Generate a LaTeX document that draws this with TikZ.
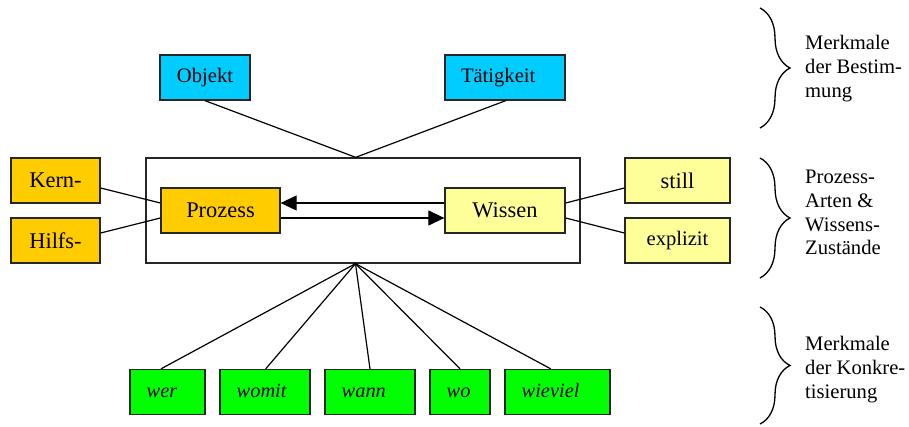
\documentclass[tikz,border=0pt]{standalone}
\usepackage{fontspec}
\setmainfont{Liberation Serif}
\usetikzlibrary{arrows.meta,decorations.pathreplacing,calc}
\definecolor{cyanbox}{HTML}{00CCFF}
\definecolor{orangebox}{HTML}{FFCC00}
\definecolor{yellowbox}{HTML}{FFFF99}
\definecolor{greenbox}{HTML}{00FF00}
\begin{document}
\begin{tikzpicture}[x=1pt,y=-1pt,
  box/.style={draw=black!85, line width=1.3pt, inner sep=0pt, minimum height=45pt},
  bigfont/.style={font=\fontsize{22.4}{26}\selectfont},
  smallfont/.style={font=\fontsize{20.6}{24}\selectfont},
  cbox/.style={box, fill=cyanbox, smallfont},
  obox/.style={box, fill=orangebox, bigfont},
  ybox/.style={box, fill=yellowbox},
  gbox/.style={box, fill=greenbox, font=\fontsize{20.4}{24}\selectfont\itshape,
    inner xsep=16.7pt, align=left, text height=11pt, text depth=0pt},
  conn/.style={line width=1.2pt, black},
  arr/.style={line width=1.2pt, black, -{Triangle[length=16pt,width=15pt]}},
  lab/.style={smallfont, align=left, inner sep=0pt, anchor=west},
  brc/.style={line width=1.3pt, decorate, decoration={brace, amplitude=30pt}}
]
\useasboundingbox (0,0) rectangle (909,427);

% frame
\node[draw=black!85, line width=1.3pt, minimum width=434pt, minimum height=105pt, inner sep=0pt] (frame) at (363,210.5) {};

% top boxes
\node[cbox, minimum width=90pt] (objekt) at (205,77.5) {Objekt};
\node[cbox, minimum width=120pt, inner xsep=16pt, text width=88pt, align=left] (taetig) at (505,77.5) {Tätigkeit};

% left boxes
\node[obox, minimum width=89pt] (kern) at (55.5,180.5) {Kern-};
\node[obox, minimum width=89pt] (hilfs) at (55.5,240.5) {Hilfs-};
\node[obox, minimum width=119pt] (prozess) at (220.5,210.5) {Prozess};

% right boxes
\node[ybox, bigfont, minimum width=120pt] (wissen) at (505,210.5) {Wissen};
\node[ybox, bigfont, minimum width=105pt] (still) at (677.5,180.5) {still};
\node[ybox, smallfont, minimum width=105pt] (explizit) at (677.5,240.5) {explizit};

% bottom boxes
\node[gbox, text width=41.6pt] (wer) at (167.5,392) {wer};
\node[gbox, text width=56.6pt] (womit) at (265,392) {womit};
\node[gbox, text width=56.6pt] (wann) at (370,392) {wann};
\node[gbox, text width=26.6pt] (wo) at (460,392) {wo};
\node[gbox, text width=71.6pt] (wieviel) at (557.5,392) {wieviel};

% junctions
\coordinate (jt) at ([xshift=-7.3pt]frame.north);
\coordinate (jb) at ([xshift=-7.5pt]frame.south);

% connectors
\draw[conn] (objekt.south) -- (jt);
\draw[conn] ([xshift=0.7pt]taetig.south) -- (jt);
\draw[conn] ([yshift=-7.5pt]kern.east) -- ([yshift=7.5pt]prozess.west);
\draw[conn] ([yshift=7.5pt]hilfs.east) -- ([yshift=-7.5pt]prozess.west);
\draw[conn] ([yshift=7.5pt]wissen.east) -- ([yshift=-7.5pt]still.west);
\draw[conn] ([yshift=-7.5pt]wissen.east) -- ([yshift=7.5pt]explizit.west);
\draw[arr] ([yshift=7.5pt]wissen.west) -- ([yshift=7.5pt]prozess.east);
\draw[arr] ([yshift=-7.5pt]prozess.east) -- ([yshift=-7.5pt]wissen.west);
\draw[conn] (jb) -- ([xshift=-6.5pt]wer.north);
\draw[conn] (jb) -- ([xshift=0.7pt]womit.north);
\draw[conn] (jb) -- (wann.north);
\draw[conn] (jb) -- (wo.north);
\draw[conn] (jb) -- ([xshift=-6.8pt]wieviel.north);

% braces
\coordinate (b1t) at (760,8);   \coordinate (b1b) at (760,128);
\coordinate (b2t) at (760,158); \coordinate (b2b) at (760,278);
\coordinate (b3t) at (760,307); \coordinate (b3b) at (760,424);
\draw[brc] (b1t) -- (b1b);
\draw[brc] (b2t) -- (b2b);
\draw[brc] (b3t) -- (b3b);

% labels
\node[lab] (l1) at (805,68.5) {Merkmale\\der Bestim-\\mung};
\node[lab, font=\fontsize{20.6}{23.7}\selectfont] (l2) at (805,212.8) {Prozess-\\Arten \&\\Wissens-\\Zustände};
\node[lab] (l3) at (805,369.2) {Merkmale\\der Konkre-\\tisierung};
\end{tikzpicture}
\end{document}
